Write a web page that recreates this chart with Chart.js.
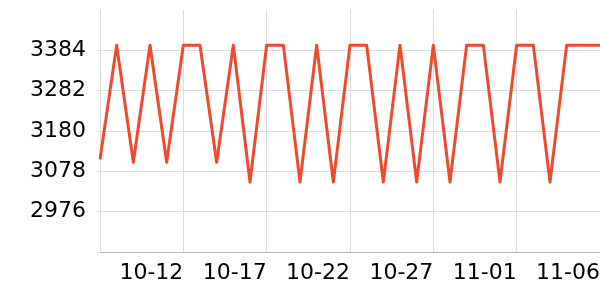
<!DOCTYPE html>
<html>
<head>
<meta charset="utf-8">
<script src="https://cdn.jsdelivr.net/npm/chart.js@4/dist/chart.umd.min.js"></script>
<style>
  html, body { margin: 0; padding: 0; background: #fff; }
  #wrap { width: 600px; height: 300px; }
</style>
</head>
<body>
<div id="wrap"><canvas id="myChart"></canvas></div>
<script>
// data
const dates = ['10-07', '10-08', '10-09', '10-10', '10-11', '10-12', '10-13', '10-14', '10-15', '10-16',
  '10-17', '10-18', '10-19', '10-20', '10-21', '10-22', '10-23', '10-24', '10-25', '10-26',
  '10-27', '10-28', '10-29', '10-30', '10-31', '11-01', '11-02', '11-03', '11-04', '11-05', '11-06'];
const prices = [3108, 3397, 3101, 3397, 3101, 3397, 3397, 3101, 3397, 3051,
  3397, 3397, 3051, 3397, 3051, 3397, 3397, 3051, 3397, 3051,
  3397, 3051, 3397, 3397, 3051, 3397, 3397, 3051, 3397, 3397, 3397];
const yMin = 2874;
const yMax = 3486;
const yStep = 102;

const lineColor = '#ee4a2b';
const gridColor = '#dddddd';

const config = {
  type: 'line',
  data: {
    labels: dates,
    datasets: [{
      data: prices,
      borderColor: lineColor,
      borderWidth: 3,
      borderJoinStyle: 'round',
      pointRadius: 0,
      tension: 0,
      fill: false
    }]
  },
  options: {
    responsive: true,
    maintainAspectRatio: false,
    animation: false,
    layout: { padding: 0 },
    plugins: {
      legend: { display: false },
      tooltip: { enabled: false }
    },
    scales: {
      x: {
        offset: false,
        grid: {
          color: gridColor,
          drawTicks: false
        },
        border: { color: '#b8b8b8', width: 1 },
        ticks: {
          autoSkip: false,
          maxRotation: 0,
          align: 'end',
          padding: 8,
          color: '#000',
          font: { family: 'DejaVu Sans', size: 22 },
          callback: (value, index) => (index > 0 && index % 5 === 0) ? dates[index] : null
        },
        afterFit: (scale) => {
          scale.height = 48;
          scale.paddingLeft = 0;
          scale.paddingRight = 0;
        }
      },
      y: {
        min: yMin,
        max: yMax,
        grid: {
          color: (ctx) => ctx.tick && ctx.tick.value === yMax ? 'rgba(0,0,0,0)' : gridColor,
          tickLength: 3
        },
        border: { color: gridColor, width: 1 },
        ticks: {
          stepSize: yStep,
          padding: 11,
          color: '#000',
          font: { family: 'DejaVu Sans', size: 22 },
          callback: (value) => (value === yMin || value === yMax) ? '' : value
        },
        afterFit: (scale) => {
          scale.width = 100;
          scale.paddingTop = 10;
          scale.paddingBottom = 0;
        }
      }
    }
  }
};

const myChart = new Chart(document.getElementById('myChart'), config);
</script>
</body>
</html>
